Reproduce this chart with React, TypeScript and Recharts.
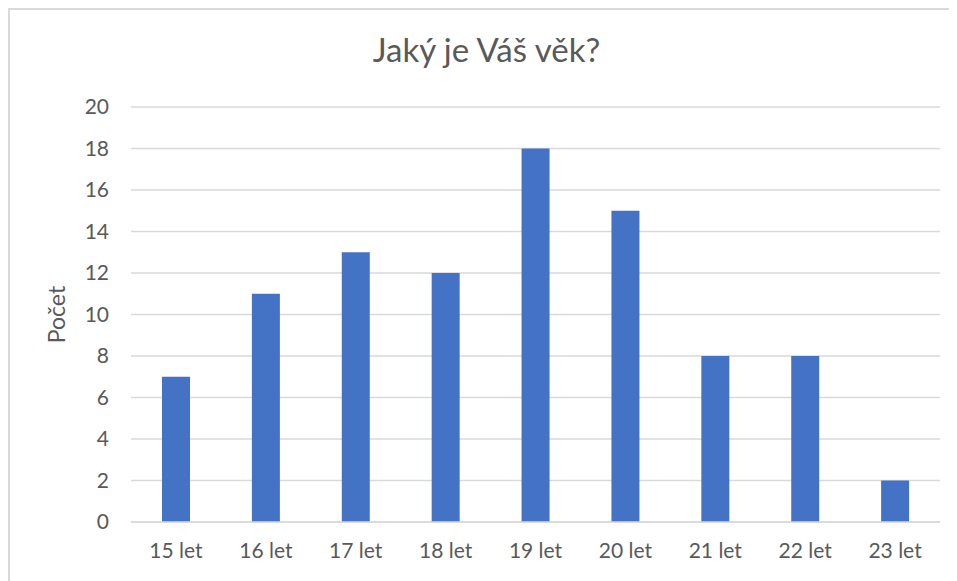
import React from "react";
import { BarChart, Bar, XAxis, YAxis, CartesianGrid } from "recharts";

const categories = ["15 let", "16 let", "17 let", "18 let", "19 let", "20 let", "21 let", "22 let", "23 let"];
const counts = [7, 11, 13, 12, 18, 15, 8, 8, 2];
const yTicks = [0, 2, 4, 6, 8, 10, 12, 14, 16, 18, 20];
const title = "Jaký je Váš věk?";
const yLabel = "Počet";

const data = categories.map((c, i) => ({ name: c, value: counts[i] }));

const FONT = "Lato, 'Open Sans', sans-serif";

export default function App() {
  return (
    <div
      style={{
        position: "relative",
        width: 947,
        height: 571,
        borderTop: "2px solid #d9d9d9",
        borderLeft: "2px solid #d9d9d9",
        background: "#fff",
        overflow: "hidden",
        fontFamily: FONT,
      }}
    >
      <div
        style={{
          position: "absolute",
          left: 0,
          right: 0,
          top: 19,
          textAlign: "center",
          fontSize: 33,
          color: "#595959",
          paddingLeft: 6,
          fontFamily: FONT,
        }}
      >
        {title}
      </div>
      <BarChart
        width={947}
        height={571}
        data={data}
        margin={{ top: 97, right: 17, bottom: 19, left: 0 }}
        style={{ position: "absolute", left: 0, top: 0 }}
      >
        <CartesianGrid vertical={false} stroke="#d9d9d9" strokeWidth={1.5} />
        <XAxis
          dataKey="name"
          axisLine={{ stroke: "#d9d9d9", strokeWidth: 1.5 }}
          tickLine={false}
          tickSize={0}
          tickMargin={21}
          height={40}
          tick={{ fill: "#595959", fontSize: 21, fontFamily: FONT }}
          interval={0}
        />
        <YAxis
          domain={[0, 20]}
          ticks={yTicks}
          axisLine={false}
          tickLine={false}
          tickSize={0}
          tickMargin={22}
          width={121}
          interval={0}
          tick={{ fill: "#595959", fontSize: 21, fontFamily: FONT }}
          label={{
            value: yLabel,
            angle: -90,
            position: "insideLeft",
            offset: 47,
            style: { fill: "#595959", fontSize: 23, fontFamily: FONT, textAnchor: "middle" },
          }}
        />
        <Bar dataKey="value" fill="#4472c4" barSize={28} isAnimationActive={false} />
      </BarChart>
    </div>
  );
}
